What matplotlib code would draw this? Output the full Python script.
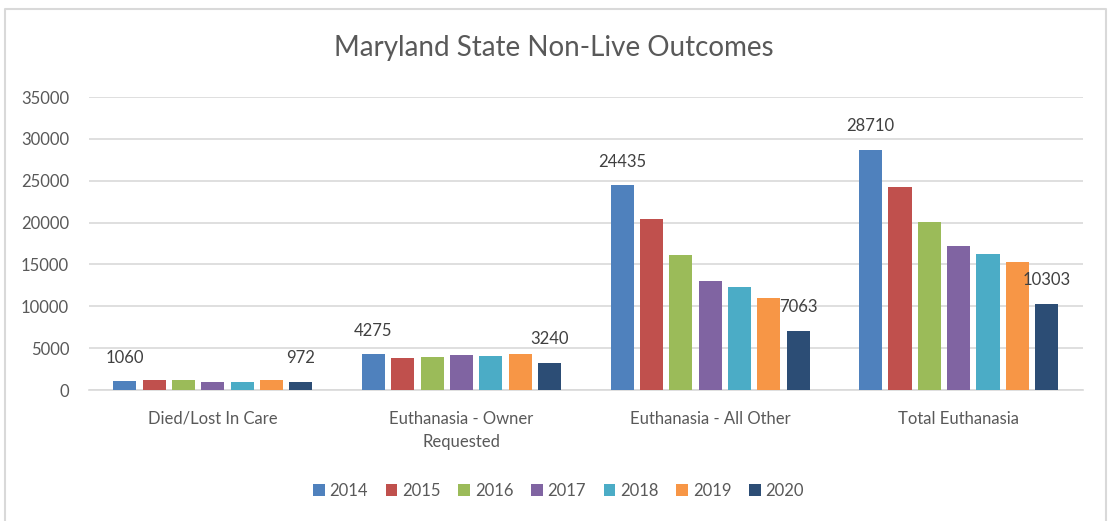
import matplotlib.pyplot as plt
import numpy as np
from matplotlib.lines import Line2D

categories = ["Died/Lost In Care", "Euthanasia - Owner\nRequested",
              "Euthanasia - All Other", "Total Euthanasia"]
years = ["2014", "2015", "2016", "2017", "2018", "2019", "2020"]

# values per year, in category order
died = [1060, 1210, 1230, 1010, 990, 1190, 972]
owner = [4275, 3850, 4000, 4200, 4050, 4250, 3240]
all_other = [24435, 20400, 16100, 13000, 12250, 11000, 7063]
total = [28710, 24250, 20100, 17200, 16300, 15250, 10303]

colors = ["#4F81BD", "#C0504D", "#9BBB59", "#8064A2", "#4BACC6", "#F79646", "#2C4D75"]
labelled = [0, 6]  # only first and last year carry data labels

plt.rcParams['font.family'] = ['Lato', 'DejaVu Sans']

fig = plt.figure(figsize=(11.08, 5.21), dpi=100)
ax = fig.add_axes([0.080, 0.2514, 0.8974, 0.5624])

data = np.array([died, owner, all_other, total])  # shape (cat, year)
x = np.arange(len(categories))
slot = 0.118
width = 0.093
for i, yr in enumerate(years):
    pos = x + (i - 3) * slot
    bars = ax.bar(pos, data[:, i], width=width, color=colors[i], label=yr, zorder=3)
    if i in labelled:
        for b, v in zip(bars, data[:, i]):
            ax.annotate(str(v), (b.get_x() + b.get_width() / 2, v),
                        xytext=(0, 17), textcoords="offset points",
                        ha="center", va="center", fontsize=12, color="#404040")

ax.set_xlim(-0.5, 3.5)
ax.set_ylim(0, 35000)
ax.set_yticks(range(0, 35001, 5000))
ax.set_yticklabels([str(v) for v in range(0, 35001, 5000)])
ax.set_xticks(x)
ax.set_xticklabels(categories, linespacing=1.55)
ax.tick_params(axis="y", length=0, pad=14, labelsize=12, labelcolor="#595959")
ax.tick_params(axis="x", length=0, pad=15, labelsize=12, labelcolor="#595959")
ax.grid(axis="y", color="#D9D9D9", linewidth=1.2, zorder=0)
for s in ["top", "right", "left"]:
    ax.spines[s].set_visible(False)
ax.spines["bottom"].set_color("#D9D9D9")
ax.spines["bottom"].set_linewidth(1.2)

fig.text(0.5, 1 - 48 / 521, "Maryland State Non-Live Outcomes", ha="center", va="center",
         fontsize=20, color="#595959")

fig.legend(loc="center", bbox_to_anchor=(0.504, 1 - 491 / 521), ncol=7, frameon=False,
           handlelength=0.7, handleheight=0.7, handletextpad=0.3, columnspacing=1.05,
           fontsize=12, labelcolor="#595959")

# chart area border (left, top, right)
W, H = 1108, 521
bx = [5 / W, 5 / W, 1106 / W, 1106 / W]
by = [0, 1 - 9 / H, 1 - 9 / H, 0]
fig.add_artist(Line2D(bx, by, transform=fig.transFigure, color="#D9D9D9", linewidth=1.5))

fig.savefig("out.png", dpi=100)
